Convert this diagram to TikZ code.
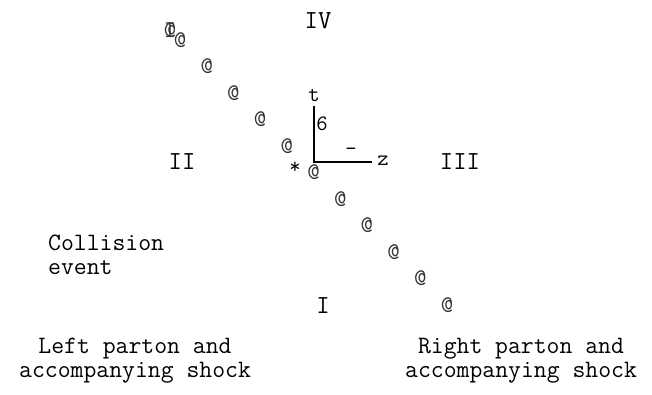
\documentclass[tikz,border=0pt]{standalone}
\usepackage{tikz}
\usetikzlibrary{positioning}

\begin{document}
\begin{tikzpicture}[x=1pt,y=-1pt,
  lbl/.style={font=\ttfamily\fontsize{25}{24}\selectfont, inner sep=0pt},
  roman/.style={font=\ttfamily\fontsize{26}{26}\selectfont, inner sep=0pt},
  small/.style={font=\ttfamily\fontsize{22}{22}\selectfont, inner sep=0pt},
  dot/.style={font=\ttfamily\fontsize{24}{24}\selectfont, inner sep=0pt, text=black!80},
  axis/.style={line width=1.6pt}]
  \useasboundingbox (0,0) rectangle (652,395);
  % quadrant labels
  \node[roman] (q4) at (318,21) {IV};
  \node[roman] (q2) at (182,162) {II};
  \node[roman] (q3) at (460,162) {III};
  \node[roman] (q1) at (323,306) {I};
  % axes
  \coordinate (o) at (314,162);
  \coordinate (tend) at (314,106);
  \coordinate (zend) at (372,162);
  \draw[axis] (tend) -- (o) -- (zend);
  \node[small] (t) at (314,95) {t};
  \node[small] (z) at (383,161) {z};
  \node[small] (tip) at (322,124) {6};
  \node[small] (zip) at (351,152) {-};
  \node[small] (star) at (295,168) {*};
  % shock line
  \foreach \i in {0,...,10}
    \node[dot] (at\i) at (180+26.7*\i,40+26.5*\i) {@};
  \node[dot] (head) at (170,30) {\rlap{I}@};
  % labels
  \node[lbl, anchor=west, align=left] (event) at (48,255) {Collision\\event};
  \node[lbl, align=center] (left) at (135,361) {Left parton and\\accompanying shock};
  \node[lbl, align=center] (right) at (521,361) {Right parton and\\accompanying shock};
\end{tikzpicture}
\end{document}
